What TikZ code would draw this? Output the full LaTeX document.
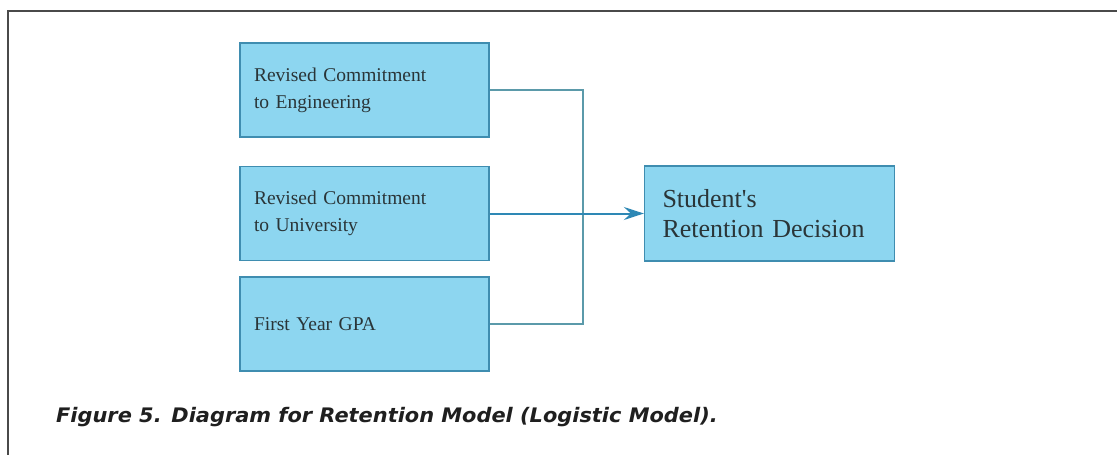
\documentclass[tikz,border=0pt]{standalone}
\usepackage{fontspec}
\setmainfont{Liberation Serif}
\newfontfamily\capfont{DejaVu Sans}
\usetikzlibrary{arrows.meta}
\definecolor{boxfill}{HTML}{8DD6F0}
\definecolor{boxline}{HTML}{3F8DB0}
\definecolor{conn}{HTML}{5B9AAA}
\definecolor{arrowc}{HTML}{2E88B5}
\definecolor{txt}{HTML}{2A3538}
\definecolor{framec}{HTML}{4A4A4A}
\tikzset{
  inbox/.style={draw=boxline, line width=1.3pt, fill=boxfill, minimum width=249pt, minimum height=94pt,
    text width=221pt, inner xsep=14pt, align=left, text=txt,
    font=\fontsize{19.5}{27}\selectfont},
  outbox/.style={draw=boxline, line width=1.3pt, fill=boxfill, minimum width=250pt, minimum height=95pt,
    text width=214pt, inner xsep=18pt, align=left, text=txt,
    font=\fontsize{26}{30}\selectfont},
  connector/.style={draw=conn, line width=1.6pt},
  arrowline/.style={draw=arrowc, line width=2pt, -{Stealth[length=20pt,width=13pt,inset=7pt]}},
}
\begin{document}
\begin{tikzpicture}[x=1pt,y=-1pt]
\useasboundingbox (0,0) rectangle (1117,455);
\fill[white] (0,0) rectangle (1117,455);
\draw[framec, line width=1.5pt] (1117,11) -- (8,11) -- (8,455);
\node[inbox] (eng) at (364.5,90) {Revised Commitment\\to Engineering};
\node[inbox] (uni) at (364.5,213.5) {Revised Commitment\\to University};
\node[inbox] (gpa) at (364.5,324) {First Year GPA};
\node[outbox] (dec) at (769.5,213.5) {Student\textquotesingle s\\Retention Decision};
\coordinate (join) at (583,213.5);
\draw[connector] (eng.east) -| (join) |- (gpa.east);
\draw[arrowline] (uni.east) -- (dec.west);
\node[anchor=base west, inner sep=0pt, text=black!88] (cap) at (56,422)
  {\scalebox{1.045}[1]{\capfont\bfseries\itshape\fontsize{20}{23}\selectfont Figure 5. Diagram for Retention Model (Logistic Model).}};
\end{tikzpicture}
\end{document}
